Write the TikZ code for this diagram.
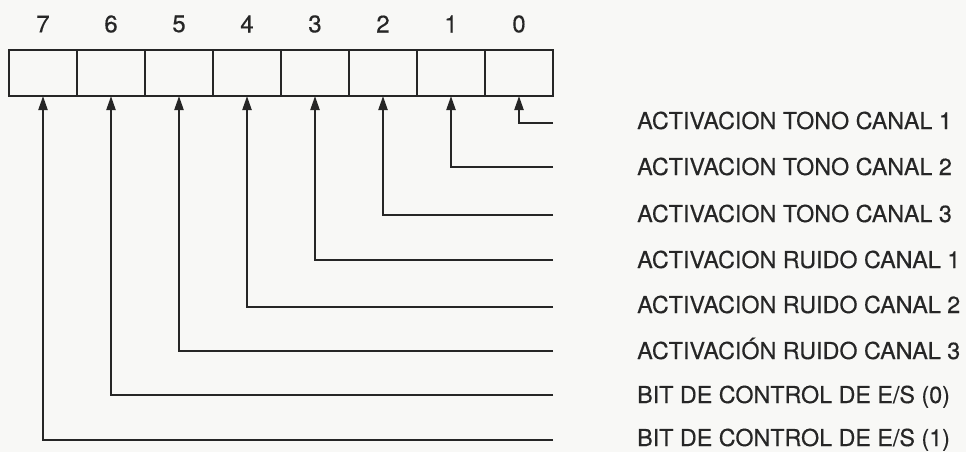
\documentclass[tikz,border=0pt]{standalone}
\usepackage{fontspec}
\setmainfont{TeX Gyre Heros}[FakeBold=0.4]
\usetikzlibrary{arrows.meta}
\definecolor{ink}{HTML}{262626}
\definecolor{paper}{HTML}{F8F8F6}
\begin{document}
\begin{tikzpicture}[x=1pt,y=-1pt,
  cell/.style={draw=ink,line width=2.2pt,minimum width=68pt,minimum height=46pt,inner sep=0pt,outer sep=0pt},
  bitnum/.style={text=ink,font=\fontsize{24}{26}\selectfont},
  lab/.style={text=ink,anchor=base west,inner sep=0pt,font=\fontsize{23.3}{25}\selectfont},
  conn/.style={draw=ink,line width=2.2pt,-{Triangle[length=14pt,width=9pt]}}]
\fill[paper] (0,0) rectangle (966,452);
\useasboundingbox (0,0) rectangle (966,452);
% register cells
\foreach \b/\i in {7/0,6/1,5/2,4/3,3/4,2/5,1/6,0/7}{
  \node[cell] (c\b) at (43+68*\i,73) {};
  \node[bitnum] (n\b) at (43+68*\i,24) {\b};
}
% labels
\node[lab] (l0) at (637,129) {ACTIVACION TONO CANAL 1};
\node[lab] (l1) at (637,175) {ACTIVACION TONO CANAL 2};
\node[lab] (l2) at (637,222) {ACTIVACION TONO CANAL 3};
\node[lab] (l3) at (637,268) {ACTIVACION RUIDO CANAL 1};
\node[lab] (l4) at (637,313) {ACTIVACION RUIDO CANAL 2};
\node[lab] (l5) at (637,359) {ACTIVACIÓN RUIDO CANAL 3};
\node[lab] (l6) at (637,403) {BIT DE CONTROL DE E/S (0)};
\node[lab] (l7) at (637,446) {BIT DE CONTROL DE E/S (1)};
% free ends of connectors
\coordinate (e0) at (553,123);
\coordinate (e1) at (553,167);
\coordinate (e2) at (553,215);
\coordinate (e3) at (553,260);
\coordinate (e4) at (553,307);
\coordinate (e5) at (553,351);
\coordinate (e6) at (553,395);
\coordinate (e7) at (553,440);
\foreach \b in {0,...,7}{
  \draw[conn] (e\b) -| (c\b.south);
}
\end{tikzpicture}
\end{document}
